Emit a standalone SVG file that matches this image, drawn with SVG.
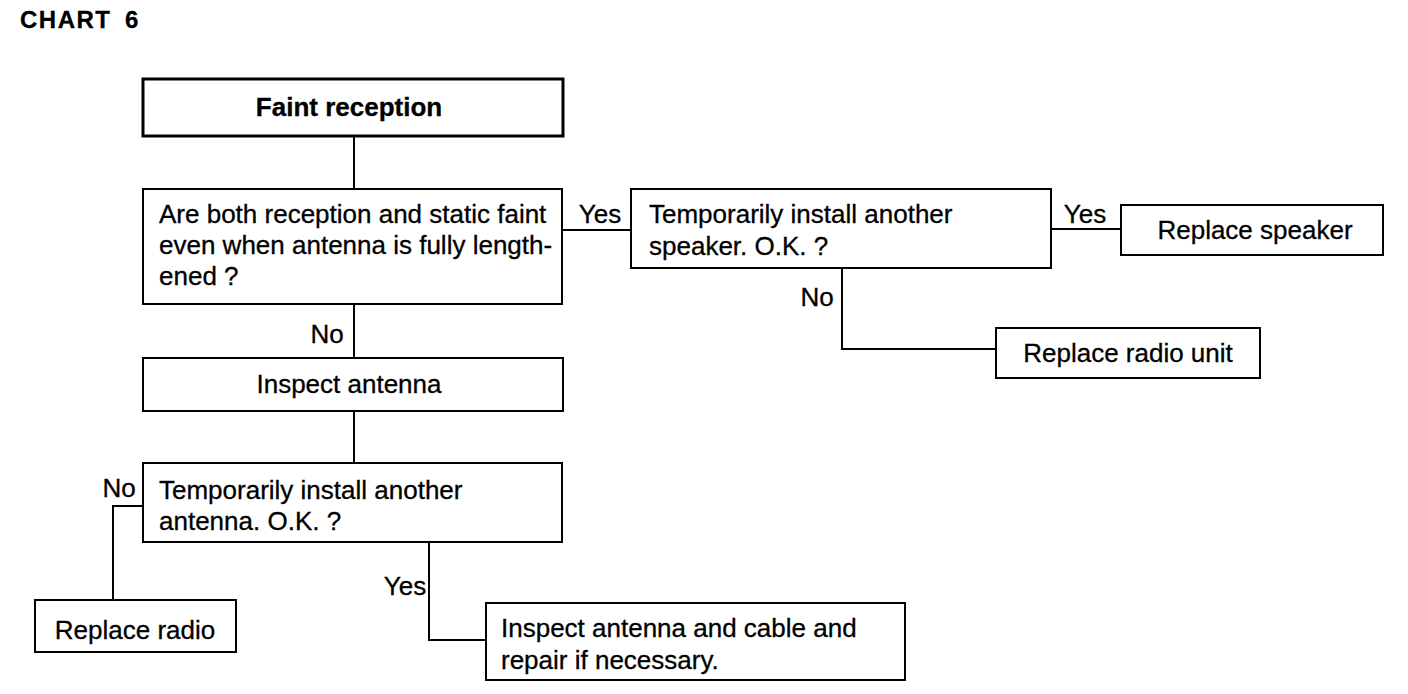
<svg xmlns="http://www.w3.org/2000/svg" width="1408" height="694" viewBox="0 0 1408 694">
<style>
.box{fill:#fff;stroke:#000;stroke-width:2}
.thick{stroke-width:3}
.t{font-family:"Liberation Sans",Arial,sans-serif;font-size:26px;fill:#000;stroke:#000;stroke-width:0.3}
.b{font-weight:bold}
.c{text-anchor:middle}
.ln{fill:none;stroke:#000;stroke-width:2}
</style>
<rect width="1408" height="694" fill="#fff"/>
<text x="20" y="28" class="t b" style="font-size:24px;letter-spacing:1.5px">CHART</text>
<text x="125" y="28" class="t b" style="font-size:24px">6</text>
<g id="connectors">
<path class="ln" d="M354 136V189"/>
<path class="ln" d="M562 230H631"/>
<path class="ln" d="M1051 229H1121"/>
<path class="ln" d="M842 268V349H996"/>
<path class="ln" d="M354 304V358"/>
<path class="ln" d="M354 411V463"/>
<path class="ln" d="M143 506H113V600"/>
<path class="ln" d="M429 542V640H486"/>
<text x="600" y="223" class="t c">Yes</text>
<text x="1085" y="223" class="t c">Yes</text>
<text x="817" y="306" class="t c">No</text>
<text x="327" y="343" class="t c">No</text>
<text x="119" y="497" class="t c">No</text>
<text x="405" y="595" class="t c">Yes</text>
</g>
<g id="n1"><rect class="box thick" x="143" y="79" width="420" height="57"/><text x="349" y="116" class="t b c">Faint reception</text></g>
<g id="n2"><rect class="box" x="143" y="189" width="419" height="115"/><text class="t" x="159" y="223">Are both reception and static faint</text><text class="t" x="159" y="254">even when antenna is fully length-</text><text class="t" x="159" y="285">ened ?</text></g>
<g id="n3"><rect class="box" x="631" y="189" width="420" height="79"/><text class="t" x="649" y="223">Temporarily install another</text><text class="t" x="649" y="255">speaker. O.K. ?</text></g>
<g id="n4"><rect class="box" x="1121" y="205" width="262" height="50"/><text class="t c" x="1255" y="239">Replace speaker</text></g>
<g id="n5"><rect class="box" x="996" y="328" width="264" height="50"/><text class="t c" x="1128" y="362">Replace radio unit</text></g>
<g id="n6"><rect class="box" x="143" y="358" width="420" height="53"/><text class="t c" x="349" y="393">Inspect antenna</text></g>
<g id="n7"><rect class="box" x="143" y="463" width="419" height="79"/><text class="t" x="159" y="499">Temporarily install another</text><text class="t" x="159" y="530">antenna. O.K. ?</text></g>
<g id="n8"><rect class="box" x="35" y="600" width="201" height="52"/><text class="t c" x="135" y="639">Replace radio</text></g>
<g id="n9"><rect class="box" x="486" y="603" width="419" height="77"/><text class="t" x="501" y="637">Inspect antenna and cable and</text><text class="t" x="501" y="669">repair if necessary.</text></g>
</svg>
